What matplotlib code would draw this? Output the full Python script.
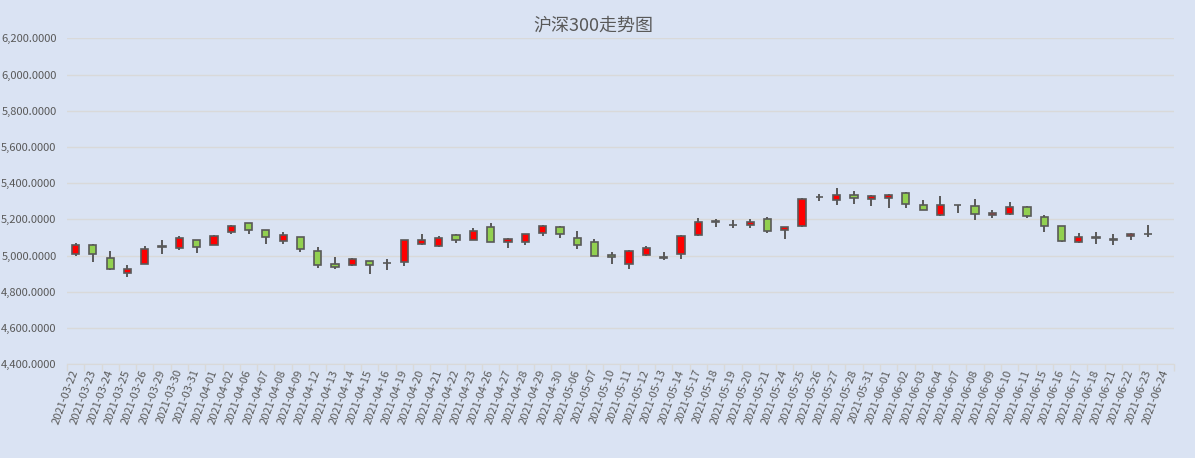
import numpy as np
import matplotlib
matplotlib.use("Agg")
import matplotlib.pyplot as plt
from matplotlib.ticker import FuncFormatter, FixedLocator

plt.rcParams["font.family"] = ["Noto Sans CJK SC", "DejaVu Sans"]

dates = ["2021-03-22", "2021-03-23", "2021-03-24", "2021-03-25", "2021-03-26", "2021-03-29",
         "2021-03-30", "2021-03-31", "2021-04-01", "2021-04-02", "2021-04-06", "2021-04-07",
         "2021-04-08", "2021-04-09", "2021-04-12", "2021-04-13", "2021-04-14", "2021-04-15",
         "2021-04-16", "2021-04-19", "2021-04-20", "2021-04-21", "2021-04-22", "2021-04-23",
         "2021-04-26", "2021-04-27", "2021-04-28", "2021-04-29", "2021-04-30", "2021-05-06",
         "2021-05-07", "2021-05-10", "2021-05-11", "2021-05-12", "2021-05-13", "2021-05-14",
         "2021-05-17", "2021-05-18", "2021-05-19", "2021-05-20", "2021-05-21", "2021-05-24",
         "2021-05-25", "2021-05-26", "2021-05-27", "2021-05-28", "2021-05-31", "2021-06-01",
         "2021-06-02", "2021-06-03", "2021-06-04", "2021-06-07", "2021-06-08", "2021-06-09",
         "2021-06-10", "2021-06-11", "2021-06-15", "2021-06-16", "2021-06-17", "2021-06-18",
         "2021-06-21", "2021-06-22", "2021-06-23", "2021-06-24"]
nan = float("nan")
opens = [5007, 5058, 4987, 4905, 4955, 5052, 5042, 5085, 5058, 5129, 5178, 5140,
         5080, 5102, 5025, 4951, 4949, 4971, 4962, 4964, 5062, 5053, 5113, 5089,
         5156, 5075, 5075, 5127, 5156, 5096, 5075, 5004, 4955, 5004, 4991, 5007,
         5113, 5189, 5171, 5167, 5200, 5140, 5162, 5326, 5307, 5336, 5313, 5318,
         5347, 5282, 5225, 5281, 5276, 5222, 5231, 5271, 5216, 5162, 5073, 5101,
         5090, 5107, 5121, nan]
highs = [5069, 5064, 5025, 4949, 5053, 5085, 5107, 5087, 5113, 5167, 5180, 5142,
         5131, 5104, 5049, 4995, 4987, 4973, 4982, 5087, 5118, 5107, 5118, 5151,
         5178, 5098, 5120, 5167, 5162, 5135, 5091, 5020, 5031, 5055, 5020, 5113,
         5205, 5200, 5195, 5200, 5216, 5158, 5320, 5342, 5375, 5358, 5333, 5342,
         5349, 5309, 5331, 5282, 5315, 5251, 5298, 5273, 5222, 5164, 5124, 5129,
         5122, 5124, 5167, nan]
lows = [4996, 4964, 4922, 4884, 4951, 5009, 5029, 5015, 5056, 5118, 5122, 5062,
        5062, 5020, 4931, 4925, 4944, 4900, 4920, 4944, 5056, 5045, 5067, 5084,
        5073, 5042, 5056, 5111, 5096, 5036, 4996, 4955, 4925, 4996, 4975, 4982,
        5111, 5156, 5151, 5151, 5124, 5091, 5160, 5302, 5280, 5285, 5275, 5264,
        5264, 5251, 5220, 5236, 5198, 5209, 5225, 5209, 5133, 5073, 5071, 5062,
        5056, 5084, 5104, nan]
closes = [5058, 5007, 4925, 4927, 5036, 5050, 5096, 5047, 5107, 5162, 5140, 5102,
          5113, 5035, 4949, 4938, 4982, 4949, 4960, 5085, 5085, 5096, 5089, 5135,
          5075, 5091, 5118, 5162, 5122, 5058, 4998, 4993, 5025, 5044, 4989, 5107,
          5184, 5186, 5169, 5184, 5135, 5156, 5315, 5324, 5336, 5318, 5331, 5336,
          5285, 5253, 5282, 5280, 5231, 5233, 5271, 5220, 5165, 5078, 5102, 5099,
          5089, 5122, 5120, nan]

BG = "#dae3f3"
TXT = "#595959"
EDGE = "#595959"
UP, DOWN = "#ff0000", "#92d050"

o = np.array(opens); h = np.array(highs); l = np.array(lows); c = np.array(closes)
x = np.arange(len(dates))

fig = plt.figure(figsize=(11.95, 4.58), dpi=100, facecolor=BG)
ax = fig.add_axes([0.056, 0.2046, 0.9264, 0.7118], facecolor=BG)

ax.vlines(x, l, h, color=EDGE, lw=1.4, zorder=2)
cols = [UP if cc > oo else DOWN for oo, cc in zip(o, c)]
ax.bar(x, np.abs(c - o), bottom=np.minimum(o, c), width=0.42, color=cols,
       edgecolor=EDGE, linewidth=1.2, zorder=3)

ax.set_xlim(-0.5, len(dates) - 0.5)
ax.set_ylim(4400, 6200)
ax.set_yticks(np.arange(4400, 6201, 200))
ax.yaxis.set_major_formatter(FuncFormatter(lambda v, p: f"{v:,.4f}"))
ax.grid(axis="y", color="#d9d9d9", lw=1.0, zorder=0)
ax.tick_params(axis="y", length=0, pad=7.5, labelsize=8, labelcolor=TXT)

ax.set_xticks(x)
ax.set_xticklabels(dates, rotation=70, ha="right", va="center", rotation_mode="anchor",
                   fontsize=8, color=TXT)
ax.tick_params(axis="x", which="major", length=0, pad=4)
ax.xaxis.set_minor_locator(FixedLocator(np.arange(-0.5, len(dates), 1.0)))
ax.tick_params(axis="x", which="minor", length=5, color="#d9d9d9", width=1)

for s in ("top", "right", "left"):
    ax.spines[s].set_visible(False)
ax.spines["bottom"].set_color("#d9d9d9")

fig.text(0.4962, 0.945, "沪深300走势图", ha="center", va="center", fontsize=13, color=TXT)

fig.savefig("out.png", dpi=100, facecolor=BG)
